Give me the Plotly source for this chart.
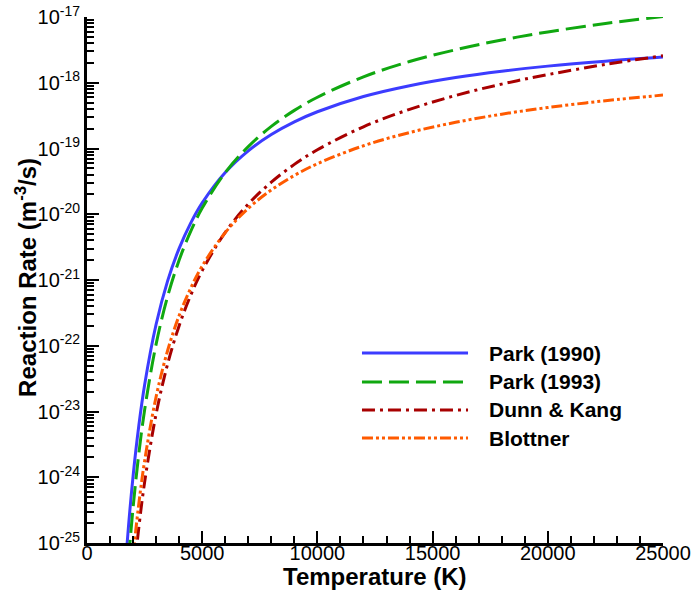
import plotly.graph_objects as go

# Temperature (K)
temperature = [1500, 1750, 2000, 2250, 2500, 3000, 3500, 4000, 4500, 5000, 6000,
               7000, 8000, 9000, 10000, 12000, 14000, 16000, 18000, 20000, 22500, 25000]

# Reaction rates (m^3/s)
park_1990 = [5.11e-27, 1.07e-25, 1.04e-24, 6.13e-24, 2.53e-23, 2.12e-22, 9.69e-22, 3.03e-21,
             7.34e-21, 1.49e-20, 4.32e-20, 9.23e-20, 1.63e-19, 2.54e-19, 3.62e-19, 6.17e-19,
             9.02e-19, 1.20e-18, 1.50e-18, 1.79e-18, 2.13e-18, 2.46e-18]
park_1993 = [1.27e-27, 3.10e-26, 3.46e-25, 2.29e-24, 1.05e-23, 1.06e-22, 5.63e-22, 2.01e-21,
             5.49e-21, 1.24e-20, 4.30e-20, 1.07e-19, 2.17e-19, 3.80e-19, 6.02e-19, 1.23e-18,
             2.10e-18, 3.18e-18, 4.47e-18, 5.93e-18, 7.96e-18, 1.02e-17]
dunn_kang = [7.84e-29, 2.06e-27, 2.46e-26, 1.73e-25, 8.35e-25, 9.21e-24, 5.30e-23, 2.02e-22,
             5.85e-22, 1.39e-21, 5.30e-21, 1.43e-20, 3.08e-20, 5.73e-20, 9.57e-20, 2.14e-19,
             3.94e-19, 6.41e-19, 9.54e-19, 1.33e-18, 1.90e-18, 2.57e-18]
blottner = [2.42e-28, 5.71e-27, 6.18e-26, 3.97e-25, 1.76e-24, 1.68e-23, 8.47e-23, 2.88e-22,
            7.51e-22, 1.63e-21, 5.25e-21, 1.23e-20, 2.34e-20, 3.89e-20, 5.87e-20, 1.10e-19,
            1.75e-19, 2.50e-19, 3.33e-19, 4.20e-19, 5.33e-19, 6.49e-19]

# y tick labels
y_tick_vals = [1e-25, 1e-24, 1e-23, 1e-22, 1e-21, 1e-20, 1e-19, 1e-18, 1e-17]
y_tick_text = ["10<sup>-25</sup>", "10<sup>-24</sup>", "10<sup>-23</sup>", "10<sup>-22</sup>",
               "10<sup>-21</sup>", "10<sup>-20</sup>", "10<sup>-19</sup>", "10<sup>-18</sup>",
               "10<sup>-17</sup>"]

series_names = ["Park (1990)", "Park (1993)", "Dunn & Kang", "Blottner"]
series_values = [park_1990, park_1993, dunn_kang, blottner]
colors = ["#3c3cff", "#10a810", "#a80000", "#ff5a00"]
dashes = ["solid", "20px,7px", "13px,5px,3px,5px", "11px,3px,3px,3px,3px,3px"]

x_title = "Temperature (K)"
y_title = "Reaction Rate (m<sup>-3</sup>/s)"

FONT = "Liberation Sans, Arial, sans-serif"

fig = go.Figure()
for name, vals, c, d in zip(series_names, series_values, colors, dashes):
    fig.add_trace(go.Scatter(
        x=temperature, y=vals, mode="lines", name=name,
        line=dict(color=c, width=3, dash=d, shape="spline"),
        showlegend=False,
    ))

# custom legend (long line samples like the original)
leg_y = [0.3612, 0.3061, 0.2529, 0.1996]
for name, c, d, yy in zip(series_names, colors, dashes, leg_y):
    fig.add_shape(type="line", xref="paper", yref="paper",
                  x0=0.4774, x1=0.6615, y0=yy, y1=yy,
                  line=dict(color=c, width=3, dash=d))
    fig.add_annotation(xref="paper", yref="paper", x=0.6944, y=yy,
                       xanchor="left", yanchor="middle", showarrow=False,
                       text=name, font=dict(family=FONT, size=21, color="black", weight="bold"))

# axis titles
fig.add_annotation(xref="paper", yref="paper", x=0.5, y=-0.063,
                   xanchor="center", yanchor="middle", showarrow=False,
                   text=x_title, font=dict(family=FONT, size=24, color="black", weight="bold"))
fig.add_annotation(xref="paper", yref="paper", x=-0.105, y=0.505,
                   xanchor="center", yanchor="middle", showarrow=False, textangle=-90,
                   text=y_title, font=dict(family=FONT, size=24, color="black", weight="bold"))

fig.update_layout(
    width=691, height=592,
    margin=dict(l=87, r=28, t=17, b=49),
    paper_bgcolor="white", plot_bgcolor="white",
    font=dict(family=FONT, color="black"),
)

fig.update_xaxes(
    range=[0, 25000], dtick=5000, tick0=0, tickformat="d",
    automargin=False, ticklabeloverflow="allow", ticklabelstandoff=-10,
    showline=True, linecolor="black", linewidth=3,
    ticks="inside", ticklen=12, tickwidth=2, tickcolor="black",
    minor=dict(ticks="inside", dtick=1000, ticklen=7, tickwidth=1.5, tickcolor="black", showgrid=False),
    showgrid=False, zeroline=False,
    tickfont=dict(family=FONT, size=20),
)

fig.update_yaxes(
    type="log", range=[-25, -17],
    tickmode="array", tickvals=y_tick_vals, ticktext=y_tick_text,
    automargin=False, ticklabeloverflow="allow",
    showline=True, linecolor="black", linewidth=3,
    ticks="inside", ticklen=12, tickwidth=2, tickcolor="black",
    minor=dict(ticks="inside", dtick="D1", ticklen=7, tickwidth=1.5, tickcolor="black", showgrid=False),
    showgrid=False, zeroline=False,
    tickfont=dict(family=FONT, size=20),
)

fig.write_html("out.html")
